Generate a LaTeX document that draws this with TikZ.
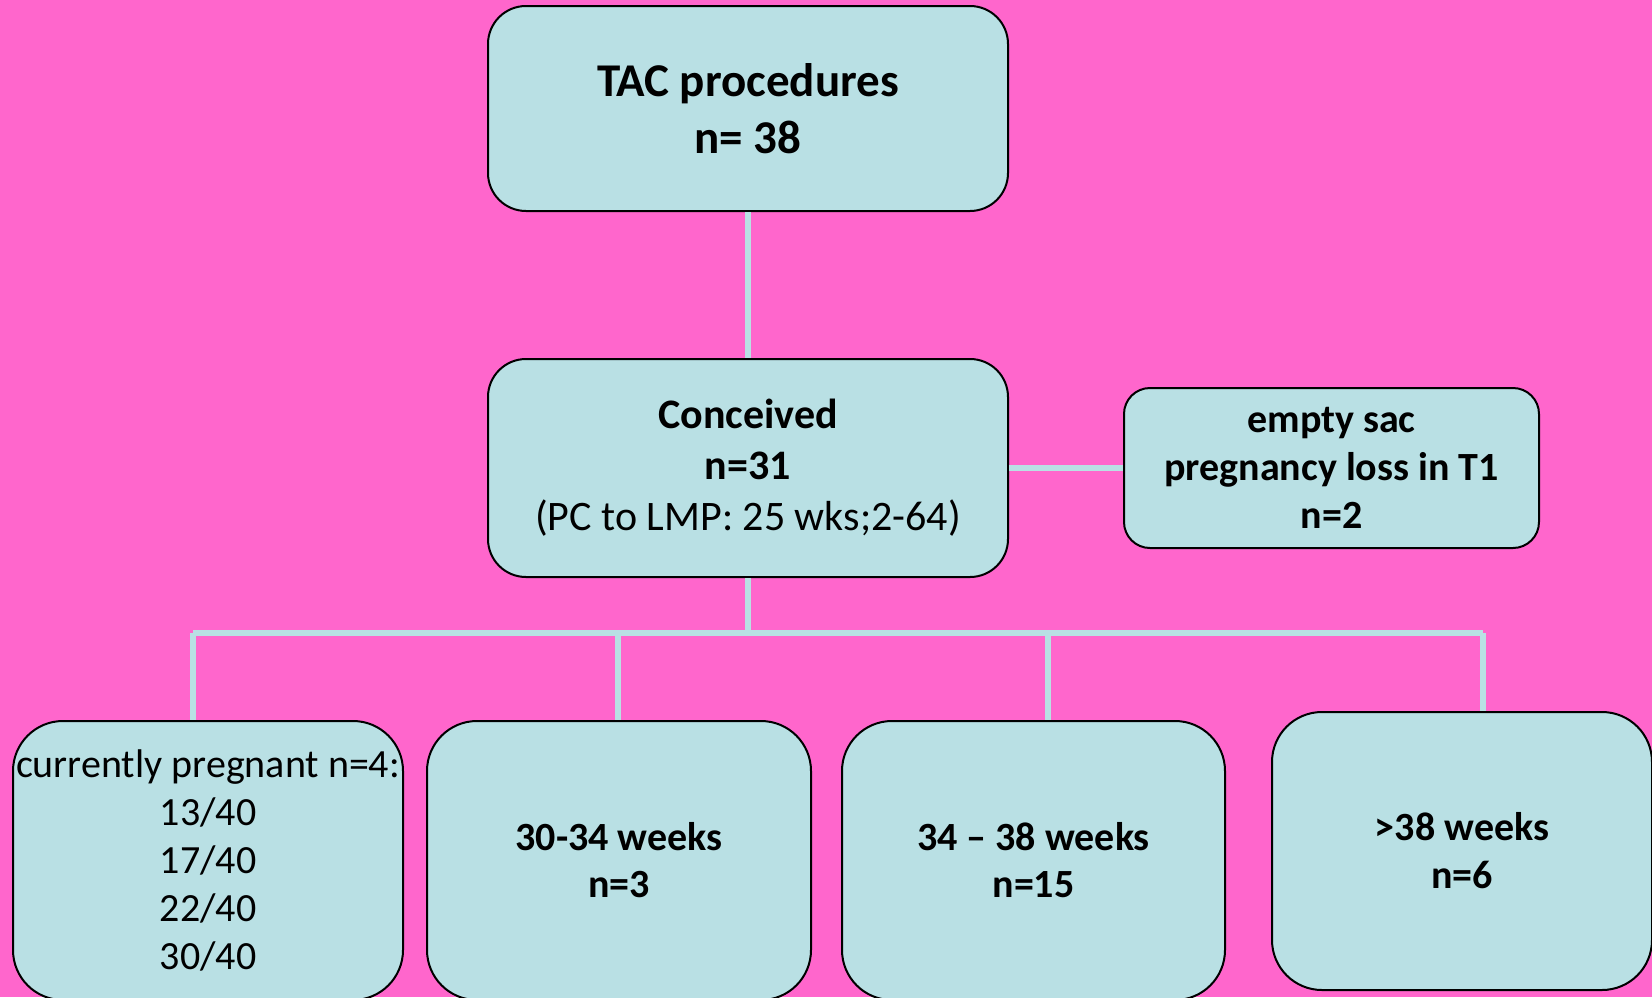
\documentclass[tikz,border=0pt]{standalone}
\usepackage{fontspec}
\setmainfont{Carlito}
\definecolor{bgpink}{RGB}{255,102,204}
\definecolor{boxblue}{RGB}{185,224,228}
\begin{document}
\begin{tikzpicture}[x=1pt,y=-1pt]
		\begin{scope}[scale=1]
		
		\tikzstyle{mybox}=[rectangle,
		draw=black,
		line width=2pt,
		fill=boxblue,
		rounded corners=38pt,
		align=center,
		inner sep=0pt
		]
		\tikzstyle{mylink}=[draw=boxblue,
		line width=5.5pt
		]
		
		\fill[bgpink] (0,0) rectangle (1652,997);
		\useasboundingbox (0,0) rectangle (1652,997);
		
		\coordinate (ptac) at (748, 108.5);
		\coordinate (pconc) at (748, 468);
		\coordinate (ploss) at (1331.5, 468);
		\coordinate (pb1) at (208, 860.5);
		\coordinate (pb2) at (619, 860.5);
		\coordinate (pb3) at (1033.5, 860.5);
		\coordinate (pb4) at (1462, 851);
		
		\coordinate (split) at (748, 633);
		\coordinate (j1) at (193, 633);
		\coordinate (j2) at (618, 633);
		\coordinate (j3) at (1048, 633);
		\coordinate (j4) at (1483, 633);
		
		\node[mybox, minimum width=520pt, minimum height=205pt,
		font=\fontsize{47}{57}\selectfont\bfseries] (tac) at (ptac) {TAC procedures\\n= 38};
		\node[mybox, minimum width=520pt, minimum height=218pt,
		font=\fontsize{42}{51}\selectfont] (conc) at (pconc) {\textbf{Conceived}\\\textbf{n=31}\\(PC to LMP: 25 wks;2-64)};
		\node[mybox, rounded corners=26pt, minimum width=415pt, minimum height=160pt,
		font=\fontsize{40}{48}\selectfont\bfseries] (loss) at (ploss) {empty sac\\pregnancy loss in T1\\n=2};
		\node[mybox, rounded corners=50pt, minimum width=390pt, minimum height=279pt,
		font=\fontsize{40}{48}\selectfont] (preg) at (pb1) {currently pregnant n=4:\\13/40\\17/40\\22/40\\30/40};
		\node[mybox, rounded corners=50pt, minimum width=384pt, minimum height=279pt,
		font=\fontsize{40}{47}\selectfont\bfseries] (early) at (pb2) {30-34 weeks\\n=3};
		\node[mybox, rounded corners=50pt, minimum width=383pt, minimum height=279pt,
		font=\fontsize{40}{47}\selectfont\bfseries] (late) at (pb3) {34 -- 38 weeks\\n=15};
		\node[mybox, rounded corners=50pt, minimum width=380pt, minimum height=278pt,
		font=\fontsize{40}{48}\selectfont\bfseries] (term) at (pb4) {>38 weeks\\n=6};
		
		\draw[mylink] (tac) -- (conc);
		\draw[mylink] (conc) -- (loss);
		\draw[mylink] (conc) -- (split);
		\draw[mylink] (j1) -- (j4);
		\draw[mylink] (j1) -- (j1 |- preg.north);
		\draw[mylink] (j2) -- (j2 |- early.north);
		\draw[mylink] (j3) -- (j3 |- late.north);
		\draw[mylink] (j4) -- (j4 |- term.north);
		
		\end{scope}
		\end{tikzpicture}
\end{document}
